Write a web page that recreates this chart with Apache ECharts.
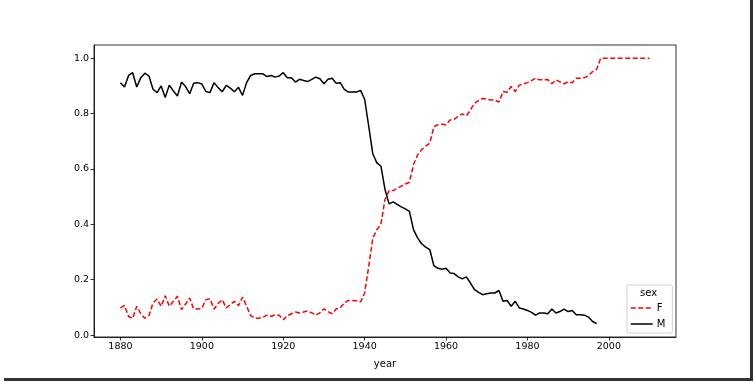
<!DOCTYPE html>
<html><head><meta charset="utf-8">
<script src="https://cdn.jsdelivr.net/npm/echarts@6/dist/echarts.min.js"></script>
<style>html,body{margin:0;padding:0;background:#fff}#c{width:755px;height:383px}</style>
</head><body><div id="c"></div>
<script>
const years = [1880,1881,1882,1883,1884,1885,1886,1887,1888,1889,
1890,1891,1892,1893,1894,1895,1896,1897,1898,1899,
1900,1901,1902,1903,1904,1905,1906,1907,1908,1909,
1910,1911,1912,1913,1914,1915,1916,1917,1918,1919,
1920,1921,1922,1923,1924,1925,1926,1927,1928,1929,
1930,1931,1932,1933,1934,1935,1936,1937,1938,1939,
1940,1941,1942,1943,1944,1945,1946,1947,1948,1949,
1950,1951,1952,1953,1954,1955,1956,1957,1958,1959,
1960,1961,1962,1963,1964,1965,1966,1967,1968,1969,
1970,1971,1972,1973,1974,1975,1976,1977,1978,1979,
1980,1981,1982,1983,1984,1985,1986,1987,1988,1989,
1990,1991,1992,1993,1994,1995,1996,1997,1998,1999,
2000,2001,2002,2003,2004,2005,2006,2007,2008,2009,2010];

const femaleProp = [0.098,0.107,0.067,0.060,0.104,0.077,0.061,0.070,0.116,0.130,
0.104,0.142,0.104,0.122,0.140,0.092,0.112,0.134,0.094,0.094,
0.097,0.128,0.131,0.094,0.114,0.128,0.098,0.110,0.122,0.106,
0.137,0.104,0.070,0.061,0.061,0.064,0.072,0.068,0.073,0.072,
0.055,0.070,0.077,0.083,0.080,0.083,0.087,0.080,0.072,0.080,
0.095,0.085,0.077,0.094,0.098,0.116,0.125,0.125,0.124,0.120,
0.152,0.248,0.350,0.381,0.400,0.490,0.522,0.522,0.530,0.538,
0.546,0.552,0.616,0.650,0.670,0.683,0.693,0.752,0.760,0.762,
0.760,0.777,0.779,0.791,0.799,0.792,0.814,0.838,0.847,0.855,
0.852,0.849,0.849,0.842,0.880,0.877,0.898,0.880,0.903,0.907,
0.912,0.919,0.928,0.922,0.922,0.923,0.908,0.922,0.915,0.908,
0.915,0.912,0.928,0.928,0.930,0.937,0.952,0.960,1.0,1.0,
1.0,1.0,1.0,1.0,1.0,1.0,1.0,1.0,1.0,1.0,1.0];

const maleProp = [0.912,0.896,0.938,0.948,0.896,0.930,0.946,0.936,0.888,0.876,
0.900,0.858,0.903,0.882,0.864,0.914,0.898,0.872,0.910,0.912,
0.907,0.880,0.876,0.912,0.894,0.879,0.902,0.892,0.879,0.895,
0.866,0.912,0.938,0.944,0.944,0.944,0.934,0.938,0.932,0.936,
0.948,0.930,0.930,0.914,0.924,0.920,0.916,0.924,0.932,0.926,
0.908,0.924,0.928,0.910,0.912,0.888,0.878,0.878,0.878,0.884,
0.852,0.755,0.655,0.622,0.610,0.526,0.474,0.481,0.472,0.463,
0.456,0.447,0.381,0.351,0.330,0.318,0.309,0.251,0.241,0.238,
0.241,0.224,0.222,0.210,0.203,0.210,0.188,0.164,0.154,0.146,
0.149,0.152,0.152,0.161,0.122,0.125,0.104,0.122,0.098,0.094,
0.089,0.082,0.072,0.080,0.080,0.077,0.094,0.080,0.085,0.094,
0.085,0.089,0.073,0.073,0.072,0.065,0.049,0.041];

const xTicks = [1880,1900,1920,1940,1960,1980,2000];
const yTicks = [0.0,0.2,0.4,0.6,0.8,1.0];
const seriesNames = ['F','M'];
const legendTitle = 'sex';
const xTitle = 'year';

const pairs = (vals) => vals.map((v, i) => [years[i], v]);
const font = 'DejaVu Sans';

const chart = echarts.init(document.getElementById('c'), null, {renderer: 'canvas'});
chart.setOption({
  animation: false,
  backgroundColor: '#fff',
  grid: {left: 94, right: 79, top: 45, bottom: 46, containLabel: false,
         show: true, borderColor: '#000', borderWidth: 0.8, backgroundColor: 'transparent'},
  xAxis: {
    type: 'value', min: 1873.5, max: 2016.5,
    name: xTitle, nameLocation: 'middle', nameGap: 22,
    nameTextStyle: {color: '#000', fontFamily: font, fontSize: 10},
    splitLine: {show: false},
    axisLine: {show: true, onZero: false, lineStyle: {color: '#000', width: 0.8}},
    axisTick: {show: true, length: 3.5, lineStyle: {color: '#000', width: 0.8}, customValues: xTicks},
    axisLabel: {color: '#000', fontFamily: font, fontSize: 9.5, margin: 5, customValues: xTicks, formatter: v => String(v)}
  },
  yAxis: {
    type: 'value', min: -0.007, max: 1.048,
    splitLine: {show: false},
    axisLine: {show: true, onZero: false, lineStyle: {color: '#000', width: 0.8}},
    axisTick: {show: true, length: 3.5, lineStyle: {color: '#000', width: 0.8}, customValues: yTicks},
    axisLabel: {color: '#000', fontFamily: font, fontSize: 9.5, margin: 5, customValues: yTicks, formatter: v => v.toFixed(1)}
  },
  legend: {
    orient: 'vertical', left: 627, top: 285,
    padding: [18, 7, 4, 3],
    itemWidth: 22, itemHeight: 8, itemGap: 6,
    borderColor: '#d0d0d0', borderWidth: 1, borderRadius: 2,
    backgroundColor: 'rgba(255,255,255,0.8)',
    itemStyle: {opacity: 0},
    lineStyle: {width: 1.5},
    textStyle: {color: '#000', fontFamily: font, fontSize: 10, padding: [0,0,0,-1]},
    data: seriesNames
  },
  graphic: [
    {type: 'text', left: 640, top: 288, z: 100, style: {text: legendTitle, fill: '#000', font: '10px "DejaVu Sans"'}},
    {type: 'rect', z: 100, shape: {x: 750, y: 0, width: 3, height: 381}, style: {fill: '#333'}},
    {type: 'rect', z: 100, shape: {x: 4, y: 378, width: 749, height: 3}, style: {fill: '#333'}}
  ],
  series: [
    {name: seriesNames[0], type: 'line', data: pairs(femaleProp), symbol: 'none',
     lineStyle: {color: '#ff0000', width: 1.5, type: [5, 2.5]}, itemStyle: {color: '#ff0000'}},
    {name: seriesNames[1], type: 'line', data: pairs(maleProp), symbol: 'none',
     lineStyle: {color: '#000', width: 1.5}, itemStyle: {color: '#000'}}
  ]
});
</script></body></html>
